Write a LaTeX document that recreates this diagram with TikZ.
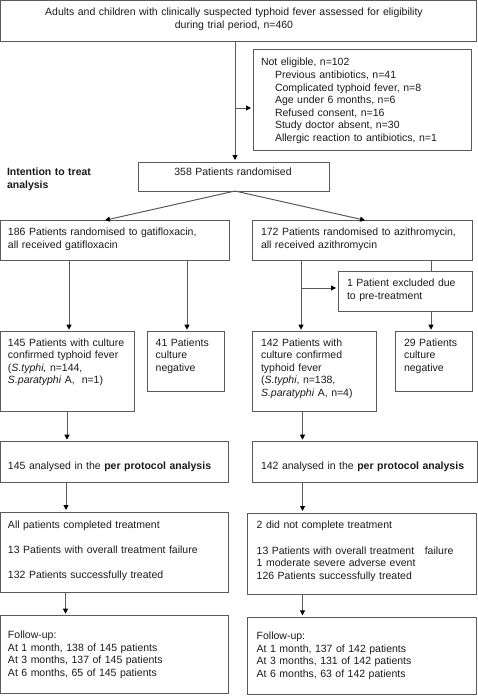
\documentclass[tikz,border=0pt]{standalone}
\usepackage{fontspec}
\setmainfont{Liberation Sans}
\usetikzlibrary{arrows.meta}
\definecolor{linegray}{HTML}{5A5A5A}
\definecolor{txtcol}{HTML}{1A1A1A}
\begin{document}
\begin{tikzpicture}[x=1pt,y=-1pt,
  box/.style={draw=linegray, line width=1pt, inner sep=0pt, outer sep=0pt, anchor=north west},
  txt/.style={anchor=base west, inner sep=0pt, outer sep=0pt, align=left, text width=#1, text=txtcol,
              font=\fontsize{10.5}{12.6}\selectfont},
  txt/.default=220pt,
  ctxt/.style={anchor=base, inner sep=0pt, outer sep=0pt, align=center, text width=#1, text=txtcol,
              font=\fontsize{10.5}{12.8}\selectfont},
  ctxt/.default=440pt,
  arr/.style={draw=linegray, line width=1pt, -{Triangle[length=5pt,width=5pt,color=black]}, shorten >=2pt},
  ln/.style={draw=linegray, line width=1pt}
]
\useasboundingbox (0,0) rectangle (478,696);

% ---- boxes ----
\node[box, minimum width=476pt, minimum height=40.5pt] (top) at (0.5,0.5) {};
\node[box, minimum width=218pt, minimum height=101pt] (ne) at (253,49) {};
\node[box, minimum width=191pt, minimum height=29pt] (rand) at (138,162) {};
\node[box, minimum width=228.5pt, minimum height=40pt] (gati) at (0.5,220.7) {};
\node[box, minimum width=220pt, minimum height=40pt] (azi) at (252,220.7) {};
\node[box, minimum width=134pt, minimum height=40.7pt] (excl) at (338,271) {};
\node[box, minimum width=133.5pt, minimum height=80pt] (c145) at (0.5,331.7) {};
\node[box, minimum width=76.3pt, minimum height=60pt] (n41) at (147.7,331.7) {};
\node[box, minimum width=124.7pt, minimum height=80pt] (c142) at (252,331.7) {};
\node[box, minimum width=77pt, minimum height=60pt] (n29) at (395,331.7) {};
\node[box, minimum width=228.2pt, minimum height=40.6pt] (ppL) at (0.5,441.7) {};
\node[box, minimum width=225.5pt, minimum height=40.6pt] (ppR) at (252,441.7) {};
\node[box, minimum width=228.2pt, minimum height=80.3pt] (trL) at (0.5,512) {};
\node[box, minimum width=228.7pt, minimum height=81pt] (trR) at (247.3,513) {};
\node[box, minimum width=228.2pt, minimum height=77.6pt] (fuL) at (0.5,615.7) {};
\node[box, minimum width=228.7pt, minimum height=77pt] (fuR) at (247.3,617.3) {};

% ---- texts ----
\node[ctxt] (ttop) at (234,15.5) {Adults and children with clinically suspected typhoid fever assessed for eligibility\\during trial period, n=460};
\node[txt] (tne) at (261,65.8) {Not eligible, n=102\\
\hspace*{14pt}Previous antibiotics, n=41\\
\hspace*{14pt}Complicated typhoid fever, n=8\\
\hspace*{14pt}Age under 6 months, n=6\\
\hspace*{14pt}Refused consent, n=16\\
\hspace*{14pt}Study doctor absent, n=30\\
\hspace*{14pt}Allergic reaction to antibiotics, n=1};
\node[txt=120pt, font=\fontsize{10.5}{13}\selectfont\bfseries] (titt) at (7,175.5) {Intention to treat\\analysis};
\node[ctxt=180pt] (trand) at (233,175.5) {358 Patients randomised};
\node[txt] (tgati) at (8,235.5) {186 Patients randomised to gatifloxacin,\\all received gatifloxacin};
\node[txt] (tazi) at (261,235.5) {172 Patients randomised to azithromycin,\\all received azithromycin};
\node[txt=120pt, font=\fontsize{10.5}{13.3}\selectfont] (texcl) at (347,286.2) {1 Patient excluded due\\to pre-treatment};
\node[txt=125pt, font=\fontsize{10.5}{12.5}\selectfont] (tc145) at (8,346.2) {145 Patients with culture\\confirmed typhoid fever\\(\textit{S.typhi,} n=144,\\\textit{S.paratyphi} A,\ \ n=1)};
\node[txt=70pt, font=\fontsize{10.5}{12.5}\selectfont] (tn41) at (155.7,346.2) {41 Patients\\culture\\negative};
\node[txt=120pt, font=\fontsize{10.5}{12.5}\selectfont] (tc142) at (261,346.2) {142 Patients with\\culture confirmed\\typhoid fever\\(\textit{S.typhi}, n=138,\\\textit{S.paratyphi} A, n=4)};
\node[txt=70pt, font=\fontsize{10.5}{12.5}\selectfont] (tn29) at (404,346.2) {29 Patients\\culture\\negative};
\node[txt] (tppL) at (8,469.5) {145 analysed in the \textbf{per protocol analysis}};
\node[txt] (tppR) at (261,469.5) {142 analysed in the \textbf{per protocol analysis}};
\node[txt, font=\fontsize{10.5}{25}\selectfont] (ttrL) at (8,528.5) {All patients completed treatment\\13 Patients with overall treatment failure\\132 Patients successfully treated};
\node[txt] (ttrR1) at (256.7,528.5) {2 did not complete treatment};
\node[txt] (ttrR2) at (256.7,554.2) {13 Patients with overall treatment\ \ \ failure\\1 moderate severe adverse event\\126 Patients successfully treated};
\node[txt] (tfuL) at (8,638.5) {Follow-up:\\At 1 month, 138 of 145 patients\\At 3 months, 137 of 145 patients\\At 6 months, 65 of 145 patients};
\node[txt] (tfuR) at (256.7,639.5) {Follow-up:\\At 1 month, 137 of 142 patients\\At 3 months, 131 of 142 patients\\At 6 months, 63 of 142 patients};

% ---- connectors ----
\coordinate (split) at (235,108);
\draw[arr] (235,0 |- top.south) -- (235,0 |- rand.north);
\draw[arr] (split) -- (split -| ne.west);
\draw[arr] (235,0 |- rand.south) -- (103,0 |- gati.north);
\draw[arr] (235,0 |- rand.south) -- (367,0 |- azi.north);
\draw[arr] (69,0 |- gati.south) -- (69,0 |- c145.north);
\draw[arr] (187,0 |- gati.south) -- (187,0 |- n41.north);
\coordinate (split2) at (301,288);
\draw[arr] (301,0 |- azi.south) -- (301,0 |- c142.north);
\draw[arr] (split2) -- (split2 -| excl.west);
\draw[ln] (431,0 |- azi.south) -- (431,0 |- excl.north);
\draw[arr] (431,0 |- excl.south) -- (431,0 |- n29.north);
\draw[arr] (67,0 |- c145.south) -- (67,0 |- ppL.north);
\draw[arr] (302.5,0 |- c142.south) -- (302.5,0 |- ppR.north);
\draw[arr] (66,0 |- ppL.south) -- (66,0 |- trL.north);
\draw[arr] (302.5,0 |- ppR.south) -- (302.5,0 |- trR.north);
\draw[arr] (65.5,0 |- trL.south) -- (65.5,0 |- fuL.north);
\draw[arr] (302.5,0 |- trR.south) -- (302.5,0 |- fuR.north);
\end{tikzpicture}
\end{document}
